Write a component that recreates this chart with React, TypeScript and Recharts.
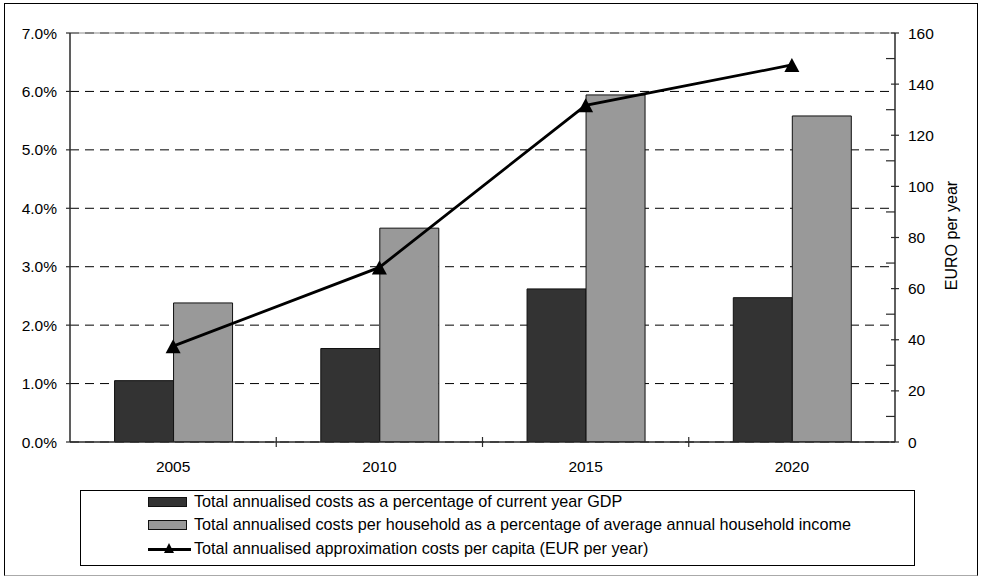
import React from "react";
import {
  ComposedChart, Bar, Line, XAxis, YAxis, CartesianGrid, ReferenceLine,
} from "recharts";

const years = ["2005", "2010", "2015", "2020"];
// % of current year GDP
const gdpShare = [1.05, 1.6, 2.62, 2.47];
// % of average annual household income
const householdShare = [2.38, 3.66, 5.94, 5.58];
// EUR per capita per year
const perCapita = [37.5, 68.3, 131.7, 147.5];

const pctTicks = [0, 1, 2, 3, 4, 5, 6, 7];
const euroTicks = [0, 10, 20, 30, 40, 50, 60, 70, 80, 90, 100, 110, 120, 130, 140, 150, 160];

const seriesNames = [
  "Total annualised costs as a percentage of current year GDP",
  "Total annualised costs per household as a percentage of average annual household income",
  "Total annualised approximation costs per capita (EUR per year)",
];

const FONT = "'Liberation Sans', Arial, sans-serif";
const AXIS = "#2a2a2a";

const data = years.map((year, i) => ({
  year,
  gdp: gdpShare[i],
  household: householdShare[i],
  capita: perCapita[i],
}));

function TriangleDot(props: any) {
  const { cx, cy } = props;
  if (cx == null || cy == null) return null;
  return (
    <path
      d={`M${cx},${cy - 7} L${cx + 7.5},${cy + 7} L${cx - 7.5},${cy + 7} Z`}
      fill="#000"
    />
  );
}

// year label under the band, plus a cross tick on the band's right edge
function YearTick(props: any) {
  const { x, y, payload } = props;
  const edge = x + (payload.offset ?? 0);
  return (
    <g>
      <text x={x} y={y + 30} textAnchor="middle" fontSize={15.5} fontFamily={FONT} fill="#000">
        {payload.value}
      </text>
      {payload.index < years.length - 1 && (
        <line x1={edge} x2={edge} y1={y - 5} y2={y + 5} stroke={AXIS} strokeWidth={1.2} />
      )}
    </g>
  );
}

// major ticks cross the axis and get a label, minor ticks sit inside
function EuroTick(props: any) {
  const { x, y, payload } = props;
  const v = payload.value as number;
  if (v % 20 !== 0) {
    return <line x1={x - 9} x2={x} y1={y} y2={y} stroke={AXIS} strokeWidth={1.2} />;
  }
  return (
    <g>
      <line x1={x - 4} x2={x + 4} y1={y} y2={y} stroke={AXIS} strokeWidth={1.2} />
      <text x={x + 13} y={y} dy="0.36em" fontSize={15.5} fontFamily={FONT} fill="#000">
        {v}
      </text>
    </g>
  );
}

function EuroTitle(props: any) {
  const { viewBox } = props;
  if (!viewBox) return null;
  const x = viewBox.x + 62;
  const y = viewBox.y + viewBox.height / 2 - 2;
  return (
    <text
      x={x}
      y={y}
      transform={`rotate(-90, ${x}, ${y})`}
      textAnchor="middle"
      fontSize={16}
      fontFamily={FONT}
      fill="#000"
    >
      EURO per year
    </text>
  );
}

function LegendBox() {
  const rowY = [16, 39, 63];
  return (
    <div
      style={{
        position: "absolute",
        left: 80,
        top: 490,
        width: 833,
        height: 74,
        border: "1px solid #000",
        background: "#fff",
      }}
    >
      <svg width={833} height={74} style={{ display: "block" }}>
        <rect x={67.5} y={rowY[0] - 9.5} width={38} height={9} fill="#333" stroke="#111" />
        <rect x={67.5} y={rowY[1] - 9.5} width={38} height={9} fill="#999" stroke="#111" />
        <line x1={67} x2={110} y1={rowY[2] - 4.5} y2={rowY[2] - 4.5} stroke="#000" strokeWidth={2.8} />
        <path
          d={`M88,${rowY[2] - 11} L93,${rowY[2] - 1} L83,${rowY[2] - 1} Z`}
          fill="#000"
        />
        {seriesNames.map((name, i) => (
          <text key={name} x={113} y={rowY[i]} fontSize={16.2} fontFamily={FONT} fill="#000">
            {name}
          </text>
        ))}
      </svg>
    </div>
  );
}

export default function App() {
  return (
    <div
      style={{
        position: "absolute",
        left: 0,
        top: 0,
        width: 986,
        height: 577,
        background: "#fff",
        fontFamily: FONT,
      }}
    >
      <div
        style={{
          position: "absolute",
          left: 4,
          top: 3,
          width: 972,
          height: 571,
          border: "1px solid #000",
          borderBottomColor: "#aaa",
        }}
      />
      <div style={{ position: "absolute", left: 0, top: 0 }}>
        <ComposedChart
          width={986}
          height={480}
          data={data}
          margin={{ top: 33, right: 31, bottom: 8, left: 4 }}
          barCategoryGap="21.6%"
          barGap={0}
        >
          <CartesianGrid
            yAxisId="pct"
            vertical={false}
            stroke="#000"
            strokeDasharray="9 6"
          />
          <ReferenceLine yAxisId="pct" y={7} stroke="#8c8c8c" strokeWidth={1.2} />
          <XAxis
            dataKey="year"
            height={30}
            tickLine={false}
            tickSize={0}
            tickMargin={0}
            axisLine={{ stroke: AXIS, strokeWidth: 1.5 }}
            tick={<YearTick />}
            interval={0}
          />
          <YAxis
            yAxisId="pct"
            width={66}
            domain={[0, 7]}
            ticks={pctTicks}
            tickFormatter={(v: number) => `${v.toFixed(1)}%`}
            tickSize={4}
            tickMargin={9}
            tickLine={{ stroke: AXIS, strokeWidth: 1.2 }}
            axisLine={{ stroke: AXIS, strokeWidth: 1.5 }}
            tick={{ fill: "#000", fontSize: 15.5, fontFamily: FONT }}
            allowDataOverflow
          />
          <YAxis
            yAxisId="eur"
            orientation="right"
            width={60}
            domain={[0, 160]}
            ticks={euroTicks}
            interval={0}
            tickLine={false}
            tickSize={0}
            tickMargin={0}
            axisLine={{ stroke: AXIS, strokeWidth: 1.5 }}
            tick={<EuroTick />}
            label={{ content: <EuroTitle /> }}
            allowDataOverflow
          />
          <Bar
            yAxisId="pct"
            dataKey="gdp"
            name={seriesNames[0]}
            fill="#333333"
            stroke="#111"
            strokeWidth={1}
            isAnimationActive={false}
          />
          <Bar
            yAxisId="pct"
            dataKey="household"
            name={seriesNames[1]}
            fill="#999999"
            stroke="#111"
            strokeWidth={1}
            isAnimationActive={false}
          />
          <Line
            yAxisId="eur"
            dataKey="capita"
            name={seriesNames[2]}
            type="linear"
            stroke="#000"
            strokeWidth={2.8}
            dot={<TriangleDot />}
            activeDot={false}
            isAnimationActive={false}
          />
        </ComposedChart>
      </div>
      <LegendBox />
    </div>
  );
}
